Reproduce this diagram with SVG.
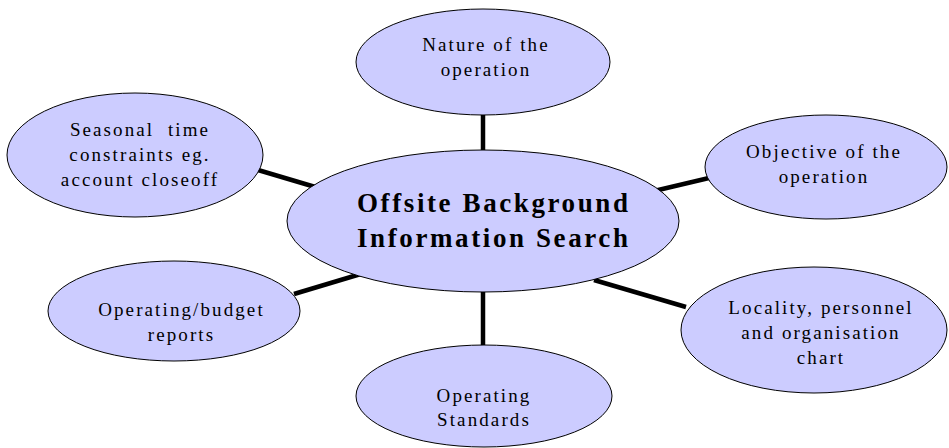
<svg xmlns="http://www.w3.org/2000/svg" width="949" height="448" viewBox="0 0 949 448">
<style>
.node ellipse{fill:#CCCCFF;stroke:#000;stroke-width:1}
.conn line{stroke:#000;stroke-width:4.5;stroke-linecap:butt}
text{font-family:"Liberation Serif","Times New Roman",serif;fill:#000;text-anchor:middle}
.s{font-size:19px;letter-spacing:2.1px}
.b{font-size:27px;font-weight:bold;letter-spacing:2.6px;text-anchor:start}
</style>
<rect width="949" height="448" fill="#fff"/>
<g id="connectors" class="conn">
<line x1="483" y1="110" x2="483" y2="155"/>
<line x1="258" y1="170" x2="322" y2="189"/>
<line x1="654" y1="191" x2="709" y2="178"/>
<line x1="594" y1="280" x2="686" y2="307"/>
<line x1="483" y1="288" x2="483" y2="349"/>
<line x1="294" y1="294" x2="364" y2="273"/>
</g>
<g id="nature" class="node">
<ellipse cx="483" cy="62" rx="127" ry="53"/>
<text class="s" x="486" y="51">Nature of the</text>
<text class="s" x="486" y="76">operation</text>
</g>
<g id="seasonal" class="node">
<ellipse cx="135" cy="155" rx="128" ry="62"/>
<text class="s" x="140" y="136" xml:space="preserve" style="white-space:pre">Seasonal  time</text>
<text class="s" x="140" y="161">constraints eg.</text>
<text class="s" x="140" y="186">account closeoff</text>
</g>
<g id="objective" class="node">
<ellipse cx="826" cy="167" rx="121" ry="52"/>
<text class="s" x="824" y="158">Objective of the</text>
<text class="s" x="824" y="183">operation</text>
</g>
<g id="center" class="node">
<ellipse cx="483" cy="221" rx="196" ry="71"/>
<text class="b" x="357" y="212">Offsite Background</text>
<text class="b" x="357" y="247">Information Search</text>
</g>
<g id="budget" class="node">
<ellipse cx="174" cy="311" rx="126" ry="50"/>
<text class="s" x="181.5" y="316">Operating/budget</text>
<text class="s" x="181.5" y="341">reports</text>
</g>
<g id="locality" class="node">
<ellipse cx="814" cy="330" rx="133" ry="63"/>
<text class="s" x="821" y="314">Locality, personnel</text>
<text class="s" x="821" y="339">and organisation</text>
<text class="s" x="821" y="364">chart</text>
</g>
<g id="standards" class="node">
<ellipse cx="484" cy="396" rx="128" ry="51"/>
<text class="s" x="484" y="402">Operating</text>
<text class="s" x="484" y="426">Standards</text>
</g>
</svg>
